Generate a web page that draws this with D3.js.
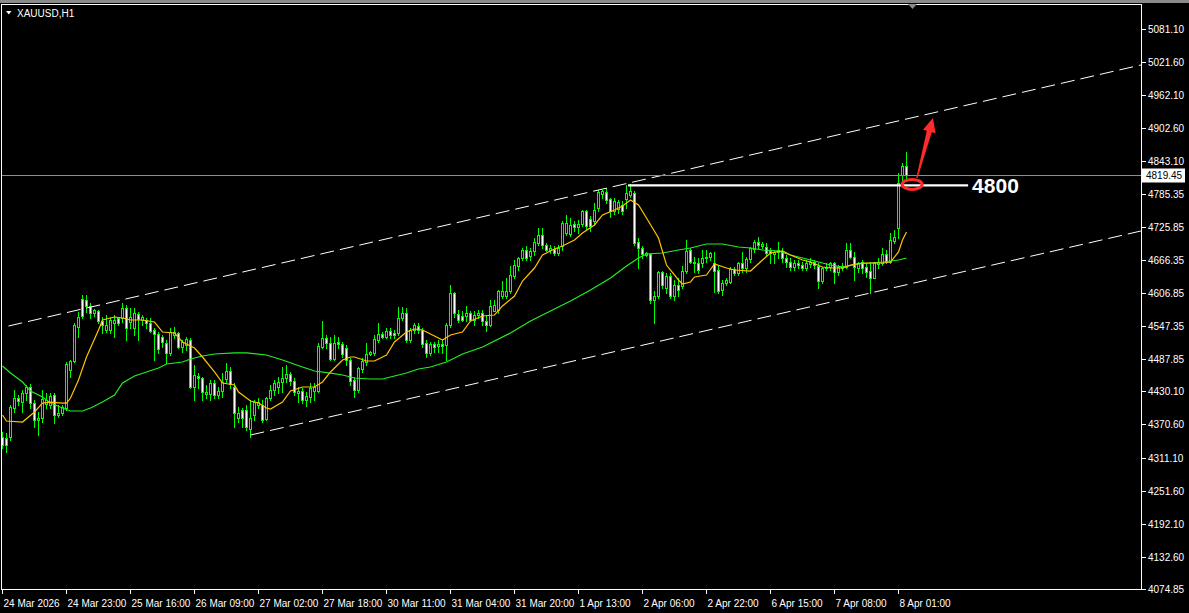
<!DOCTYPE html>
<html>
<head>
<meta charset="utf-8">
<script src="https://cdn.jsdelivr.net/npm/d3@7"></script>
<style>
  body { margin: 0; background: #000; overflow: hidden; }
  svg { display: block; }
  text { font-family: "Liberation Sans", Arial, sans-serif; }
</style>
</head>
<body>
<div id="chart"></div>
<script>
// XAUUSD H1 candles (one entry per hourly bar)
var symbol = "XAUUSD,H1";

var opens = [
  4348.0,4346.2,4348.0,4400.0,4418.0,4410.8,4427.0,4437.8,4409.0,4378.5,
  4382.1,4407.2,4405.4,4423.4,4387.5,4391.1,4400.0,4468.3,4484.5,4545.6,
  4595.9,4594.1,4583.4,4570.8,4574.4,4556.4,4540.2,4540.2,4552.8,4561.8,
  4561.8,4579.8,4554.6,4543.8,4569.0,4558.2,4558.2,4552.8,4540.2,4533.0,
  4527.7,4516.9,4499.0,4531.2,4534.8,4509.7,4513.3,4522.3,4437.8,4457.6,
  4454.0,4425.2,4425.2,4445.0,4423.4,4430.6,4452.2,4466.5,4437.8,4382.1,
  4396.5,4396.5,4362.3,4387.5,4405.4,4405.4,4380.3,4418.0,4432.4,4437.8,
  4446.8,4454.0,4461.2,4448.6,4427.0,4430.6,4414.4,4419.8,4430.6,4430.6,
  4509.7,4525.9,4516.9,4488.1,4518.7,4515.1,4507.9,4486.3,4450.4,4432.4,
  4470.1,4482.7,4497.1,4499.0,4522.3,4533.0,4527.7,4538.4,4534.8,4534.8,
  4561.8,4570.8,4522.3,4540.2,4547.4,4540.2,4516.9,4499.0,4515.1,4511.5,
  4515.1,4513.3,4549.2,4606.7,4569.0,4565.4,4565.4,4570.8,4558.2,4567.2,
  4570.8,4556.4,4549.2,4574.4,4576.2,4601.3,4601.3,4610.3,4637.3,4655.2,
  4669.6,4684.0,4673.2,4682.2,4696.5,4710.9,4693.0,4684.0,4685.8,4678.6,
  4691.2,4714.5,4712.7,4730.7,4725.3,4730.7,4754.1,4739.7,4736.1,4759.5,
  4784.6,4788.2,4775.6,4754.1,4757.7,4764.8,4775.6,4782.8,4786.4,4698.3,
  4687.6,4675.0,4676.8,4594.1,4601.3,4644.4,4615.7,4637.3,4601.3,4621.1,
  4619.3,4646.2,4684.0,4662.4,4660.6,4660.6,4669.6,4671.4,4660.6,4648.0,
  4612.1,4624.7,4626.5,4649.8,4642.6,4660.6,4651.6,4667.8,4685.8,4698.3,
  4691.2,4689.4,4682.2,4676.8,4680.4,4682.2,4669.6,4662.4,4653.4,4660.6,
  4657.0,4651.6,4658.8,4662.4,4655.2,4628.3,4651.6,4653.4,4660.6,4644.4,
  4651.6,4653.4,4684.0,4671.4,4651.6,4662.4,4653.4,4646.2,4633.7,4658.8,
  4660.6,4676.8,4662.4,4700.1,4723.5,4818.8,4835.0
];
var highs = [
  4356.9,4355.1,4405.4,4432.4,4423.4,4432.4,4441.4,4443.2,4414.4,4392.9,
  4432.4,4427.0,4427.0,4427.0,4405.4,4405.4,4482.7,4486.3,4552.8,4572.6,
  4603.1,4603.1,4588.7,4578.0,4576.2,4563.6,4567.2,4563.6,4567.2,4563.6,
  4588.7,4585.1,4579.8,4579.8,4572.6,4567.2,4561.8,4561.8,4543.8,4536.6,
  4531.2,4522.3,4543.8,4545.6,4536.6,4522.3,4527.7,4525.9,4477.3,4463.0,
  4455.8,4441.4,4450.4,4450.4,4437.8,4463.0,4480.9,4473.7,4445.0,4401.8,
  4400.0,4405.4,4414.4,4414.4,4418.0,4414.4,4419.8,4441.4,4450.4,4455.8,
  4473.7,4477.3,4464.8,4454.0,4437.8,4436.0,4428.8,4445.0,4445.0,4516.9,
  4556.4,4531.2,4527.7,4531.2,4527.7,4518.7,4513.3,4489.9,4455.8,4473.7,
  4489.9,4516.9,4502.5,4531.2,4552.8,4536.6,4543.8,4543.8,4540.2,4581.6,
  4581.6,4579.8,4543.8,4552.8,4552.8,4543.8,4522.3,4518.7,4518.7,4522.3,
  4522.3,4552.8,4621.1,4608.5,4576.2,4574.4,4583.4,4574.4,4574.4,4576.2,
  4576.2,4565.4,4594.1,4594.1,4612.1,4628.3,4633.7,4655.2,4666.0,4671.4,
  4687.6,4691.2,4687.6,4705.5,4723.5,4723.5,4696.5,4693.0,4691.2,4693.0,
  4736.1,4746.9,4741.5,4736.1,4737.9,4755.9,4755.9,4745.1,4768.4,4791.8,
  4791.8,4795.4,4777.4,4777.4,4773.8,4772.0,4800.8,4802.6,4790.0,4705.5,
  4691.2,4680.4,4678.6,4610.3,4646.2,4646.2,4642.6,4642.6,4630.1,4633.7,
  4655.2,4701.9,4687.6,4671.4,4669.6,4684.0,4684.0,4680.4,4680.4,4657.0,
  4630.1,4633.7,4653.4,4653.4,4662.4,4680.4,4671.4,4689.4,4701.9,4707.3,
  4698.3,4696.5,4687.6,4684.0,4698.3,4687.6,4675.0,4669.6,4666.0,4666.0,
  4662.4,4666.0,4669.6,4666.0,4660.6,4653.4,4660.6,4662.4,4662.4,4657.0,
  4660.6,4696.5,4696.5,4680.4,4662.4,4666.0,4660.6,4662.4,4662.4,4669.6,
  4687.6,4684.0,4714.5,4719.9,4822.4,4840.3,4860.1
];
var lows = [
  4328.2,4321.0,4342.6,4392.9,4405.4,4392.9,4414.4,4400.0,4365.9,4351.5,
  4374.9,4400.0,4400.0,4373.1,4383.9,4387.5,4396.5,4455.8,4482.7,4527.7,
  4561.8,4572.6,4561.8,4565.4,4552.8,4534.8,4536.6,4534.8,4527.7,4549.2,
  4554.6,4522.3,4543.8,4531.2,4522.3,4549.2,4543.8,4536.6,4486.3,4499.0,
  4509.7,4480.9,4495.3,4525.9,4507.9,4500.7,4504.3,4436.0,4414.4,4436.0,
  4414.4,4418.0,4414.4,4418.0,4418.0,4419.8,4446.8,4436.0,4365.9,4374.9,
  4365.9,4360.5,4347.9,4378.5,4400.0,4374.9,4378.5,4414.4,4423.4,4427.0,
  4428.8,4446.8,4441.4,4423.4,4410.8,4409.0,4403.6,4410.8,4414.4,4428.8,
  4507.9,4507.9,4486.3,4486.3,4507.9,4491.7,4477.3,4441.4,4419.8,4428.8,
  4464.8,4477.3,4495.3,4495.3,4518.7,4525.9,4525.9,4525.9,4525.9,4531.2,
  4558.2,4518.7,4518.7,4534.8,4534.8,4509.7,4491.7,4495.3,4500.7,4500.7,
  4499.0,4486.3,4545.6,4563.6,4554.6,4556.4,4556.4,4556.4,4549.2,4561.8,
  4549.2,4538.4,4547.4,4574.4,4570.8,4597.7,4597.7,4606.7,4633.7,4648.0,
  4666.0,4666.0,4666.0,4675.0,4693.0,4687.6,4682.2,4678.6,4675.0,4675.0,
  4684.0,4710.9,4709.1,4718.1,4714.5,4727.1,4719.9,4718.1,4728.9,4754.1,
  4777.4,4768.4,4743.3,4748.7,4750.5,4748.7,4759.5,4779.2,4693.0,4651.6,
  4669.6,4673.2,4588.7,4552.8,4597.7,4615.7,4606.7,4597.7,4594.1,4601.3,
  4615.7,4643.1,4660.6,4644.4,4642.6,4653.4,4662.4,4666.0,4608.5,4606.7,
  4603.1,4621.1,4624.7,4639.0,4639.0,4644.4,4644.4,4662.4,4680.4,4687.6,
  4687.6,4675.0,4660.6,4660.6,4669.6,4662.4,4653.4,4648.0,4648.0,4651.6,
  4648.0,4648.0,4653.4,4651.6,4615.7,4624.7,4648.0,4648.0,4624.7,4639.0,
  4648.0,4651.6,4669.6,4630.1,4644.4,4642.6,4635.5,4606.7,4633.7,4651.6,
  4657.0,4660.6,4660.6,4696.5,4705.5,4804.4,4813.4
];
var closes = [
  4333.6,4334.2,4401.8,4418.0,4412.6,4427.0,4437.8,4409.0,4378.5,4382.1,
  4416.2,4414.4,4421.6,4387.5,4391.1,4401.8,4479.1,4484.5,4549.2,4563.6,
  4565.4,4583.4,4570.8,4576.2,4556.4,4549.2,4549.2,4558.2,4558.2,4552.8,
  4579.8,4543.8,4563.6,4570.8,4560.0,4563.6,4552.8,4538.4,4533.0,4506.1,
  4518.7,4499.0,4536.6,4536.6,4509.7,4518.7,4524.1,4437.8,4459.4,4454.0,
  4428.8,4428.8,4445.0,4423.4,4430.6,4446.8,4466.5,4443.2,4391.1,4391.1,
  4382.1,4365.9,4382.1,4410.8,4410.8,4378.5,4418.0,4432.4,4445.0,4446.8,
  4454.0,4461.2,4448.6,4428.8,4430.6,4414.4,4421.6,4436.0,4437.8,4511.5,
  4525.9,4516.9,4488.1,4516.9,4515.1,4497.1,4486.3,4448.6,4432.4,4471.9,
  4484.5,4497.1,4500.7,4524.1,4533.0,4527.7,4538.4,4531.2,4531.2,4561.8,
  4570.8,4522.3,4540.2,4549.2,4540.2,4515.1,4499.0,4515.1,4509.7,4515.1,
  4511.5,4549.2,4606.7,4570.8,4558.2,4558.2,4570.8,4558.2,4567.2,4570.8,
  4556.4,4549.2,4583.4,4585.1,4610.3,4610.3,4610.3,4639.0,4657.0,4669.6,
  4684.0,4669.6,4682.2,4698.3,4710.9,4693.0,4684.0,4687.6,4678.6,4687.6,
  4732.5,4732.5,4728.9,4725.3,4730.7,4754.1,4727.1,4727.1,4755.9,4788.2,
  4790.0,4773.8,4754.1,4772.0,4770.2,4754.1,4786.4,4790.0,4696.5,4687.6,
  4676.8,4678.6,4594.1,4601.3,4644.4,4621.1,4637.3,4601.3,4621.1,4612.1,
  4646.2,4682.2,4662.4,4660.6,4648.0,4669.6,4671.4,4678.6,4646.2,4610.3,
  4624.7,4630.1,4649.8,4642.6,4660.6,4651.6,4667.8,4687.6,4698.3,4693.0,
  4694.8,4678.6,4678.6,4680.4,4684.0,4669.6,4662.4,4653.4,4660.6,4657.0,
  4651.6,4660.6,4662.4,4657.0,4628.3,4651.6,4653.4,4660.6,4644.4,4653.4,
  4655.2,4684.0,4671.4,4653.4,4660.6,4651.6,4644.4,4633.7,4660.6,4662.4,
  4676.8,4662.4,4701.9,4707.3,4804.4,4835.0,4819.45
];

// moving averages read at sample bars: [bar index, price]
var maFast = [
  [0,4387.5],[1,4376.7],[5,4374.9],[8,4392.9],[10,4409.0],[12,4410.8],[15,4409.0],[16,4409.0],
  [17,4418.0],[19,4450.4],[21,4491.7],[24,4540.2],[25,4558.2],[28,4563.6],[30,4561.8],[32,4558.2],
  [35,4558.2],[38,4554.6],[40,4536.6],[43,4534.8],[45,4518.7],[48,4507.9],[50,4491.7],[53,4464.8],
  [55,4445.0],[58,4441.4],[59,4428.8],[62,4412.6],[64,4409.0],[66,4400.0],[67,4398.3],[70,4410.8],
  [72,4430.6],[75,4437.8],[78,4437.8],[80,4446.8],[82,4464.8],[85,4486.3],[87,4491.7],[88,4491.7],
  [91,4484.5],[93,4484.5],[96,4495.3],[98,4518.7],[101,4536.6],[103,4542.0],[105,4540.2],[107,4533.0],
  [110,4522.3],[112,4531.2],[115,4536.6],[117,4556.4],[120,4565.4],[123,4567.2],[125,4583.4],[128,4601.3],
  [130,4628.3],[133,4651.6],[135,4675.0],[138,4685.8],[140,4691.2],[143,4701.9],[145,4714.5],[148,4728.9],
  [150,4746.9],[153,4755.9],[155,4763.0],[157,4773.8],[159,4764.8],[161,4741.5],[164,4705.5],[166,4657.0],
  [169,4630.1],[170,4622.9],[172,4626.5],[173,4635.5],[176,4639.0],[178,4658.8],[181,4651.6],[183,4648.0],
  [187,4646.2],[190,4666.0],[192,4678.6],[195,4682.2],[197,4675.0],[200,4666.0],[202,4662.4],[205,4653.4],
  [207,4651.6],[210,4651.6],[212,4657.0],[215,4660.6],[217,4660.6],[220,4660.6],[222,4662.4],[224,4680.4],
  [225,4701.9],[226,4716.3]
];
var maSlow = [
  [0,4475.5],[2,4462.9],[5,4446.8],[7,4430.6],[10,4419.8],[12,4409.0],[15,4400.0],[17,4394.7],
  [20,4394.7],[22,4400.0],[25,4410.8],[28,4423.4],[30,4445.0],[33,4457.6],[36,4464.8],[39,4471.9],
  [41,4479.1],[45,4482.7],[47,4488.1],[50,4493.5],[53,4497.1],[58,4499.0],[61,4499.0],[66,4495.3],
  [70,4486.3],[75,4473.7],[78,4466.5],[82,4462.9],[85,4459.4],[88,4454.0],[92,4452.2],[95,4452.2],
  [97,4455.8],[101,4462.9],[104,4470.1],[107,4473.7],[111,4482.7],[115,4497.1],[120,4509.7],[127,4534.8],
  [132,4556.4],[137,4574.4],[142,4592.3],[147,4612.1],[152,4633.7],[156,4655.2],[159,4669.6],[161,4676.8],
  [165,4678.6],[169,4684.0],[172,4687.6],[176,4694.8],[180,4694.8],[184,4689.4],[187,4687.6],[190,4684.0],
  [194,4682.2],[197,4675.0],[200,4669.6],[204,4662.4],[207,4657.0],[210,4653.4],[214,4658.8],[217,4660.6],
  [220,4662.4],[224,4666.0],[226,4669.6]
];

var timeLabels = ["24 Mar 2026","24 Mar 23:00","25 Mar 16:00","26 Mar 09:00","27 Mar 02:00",
  "27 Mar 18:00","30 Mar 11:00","31 Mar 04:00","31 Mar 20:00","1 Apr 13:00","2 Apr 06:00",
  "2 Apr 22:00","6 Apr 15:00","7 Apr 08:00","8 Apr 01:00"];
var labelEvery = 16; // bars between time labels

var priceTicks = [5081.10,5021.60,4962.10,4902.60,4843.10,4785.35,4725.85,4666.35,4606.85,
  4547.35,4487.85,4430.10,4370.60,4311.10,4251.60,4192.10,4132.60,4074.85];
var lastPrice = 4819.45;

// drawn objects: channel (two anchor points each), level line, marker, arrow
var channelUpper = [[1.5,4547.4],[284.6,5016.4]];
var channelLower = [[62,4351.5],[284.6,4718.1]];
var levelPrice = 4800, levelFrom = 156.4, levelTo = 241.4;
var levelText = "4800";
var markAt = [227.4, 4800];
var arrowFrom = [228.6, 4813.4], arrowTo = [232.6, 4921.2];

var W = 1189, H = 613;
var plot = { left: 1, right: 1141, top: 4, bottom: 589 };

var x = d3.scaleLinear().domain([0, 1]).range([2.5, 6.5]);
var y = d3.scaleLinear().domain([4074.85, 5126.0]).range([plot.bottom, plot.top]);

var svg = d3.select("#chart").append("svg")
    .attr("width", W)
    .attr("height", H);

svg.append("rect").attr("width", W).attr("height", H).attr("fill", "#000");
svg.append("rect").attr("width", W).attr("height", 3).attr("fill", "#8a8a8a");

svg.append("clipPath").attr("id", "clip")
  .append("rect")
    .attr("x", plot.left + 1).attr("y", plot.top + 1)
    .attr("width", plot.right - plot.left - 1)
    .attr("height", plot.bottom - plot.top - 1);

var g = svg.append("g").attr("clip-path", "url(#clip)");

// candles
var bars = d3.range(opens.length);
g.append("g").selectAll("line")
  .data(bars)
  .enter().append("line")
    .attr("x1", function(i) { return x(i); })
    .attr("x2", function(i) { return x(i); })
    .attr("y1", function(i) { return Math.round(y(highs[i])); })
    .attr("y2", function(i) { return Math.round(y(lows[i])) + 1; })
    .attr("stroke", "#00ff00")
    .attr("stroke-width", 1);

g.append("g").selectAll("rect")
  .data(bars)
  .enter().append("rect")
    .attr("x", function(i) { return x(i) - 1; })
    .attr("width", 2)
    .attr("y", function(i) { return Math.round(y(Math.max(opens[i], closes[i]))) + 0.5; })
    .attr("height", function(i) {
      var h = Math.round(y(Math.min(opens[i], closes[i]))) - Math.round(y(Math.max(opens[i], closes[i])));
      return Math.max(h, 1);
    })
    .attr("fill", function(i) { return closes[i] >= opens[i] ? "#000" : "#fff"; })
    .attr("stroke", "#00ff00")
    .attr("stroke-width", 1);

// moving averages
var maLine = d3.line()
    .x(function(d) { return x(d[0]); })
    .y(function(d) { return y(d[1]); });

g.append("path").datum(maSlow)
    .attr("d", maLine)
    .attr("fill", "none")
    .attr("stroke", "#22ee22")
    .attr("stroke-width", 1.2);

g.append("path").datum(maFast)
    .attr("d", maLine)
    .attr("fill", "none")
    .attr("stroke", "#ffc400")
    .attr("stroke-width", 1.2);

// channel, dashed white
function ray(pts) {
  var a = pts[0], b = pts[1];
  return [[x(a[0]), y(a[1])], [x(b[0]), y(b[1])]];
}
[channelUpper, channelLower].forEach(function(c) {
  var p = ray(c);
  g.append("line")
      .attr("x1", p[0][0]).attr("y1", p[0][1])
      .attr("x2", p[1][0]).attr("y2", p[1][1])
      .attr("stroke", "#fff")
      .attr("stroke-width", 1)
      .attr("stroke-dasharray", "14,6");
});

// current price line
g.append("line")
    .attr("x1", plot.left).attr("x2", plot.right)
    .attr("y1", Math.round(y(lastPrice)) + 0.5).attr("y2", Math.round(y(lastPrice)) + 0.5)
    .attr("stroke", "#7f8fa6")
    .attr("stroke-width", 1);

// level line and label
var ly = y(levelPrice);
svg.append("line")
    .attr("x1", x(levelFrom)).attr("x2", x(levelTo))
    .attr("y1", ly).attr("y2", ly)
    .attr("stroke", "#fff")
    .attr("stroke-width", 2.2);
svg.append("text")
    .attr("x", x(levelTo) + 4)
    .attr("y", ly)
    .attr("dy", "0.36em")
    .attr("fill", "#fff")
    .attr("font-size", 21)
    .attr("font-weight", "bold")
    .text(levelText);

// red marker ellipse and arrow
svg.append("ellipse")
    .attr("cx", x(markAt[0])).attr("cy", y(markAt[1]) - 1)
    .attr("rx", 10).attr("ry", 5)
    .attr("fill", "none")
    .attr("stroke", "#ff2a2a")
    .attr("stroke-width", 3);

(function() {
  var x0 = x(arrowFrom[0]), y0 = y(arrowFrom[1]);
  var x1 = x(arrowTo[0]), y1 = y(arrowTo[1]);
  var dx = x1 - x0, dy = y1 - y0, len = Math.sqrt(dx * dx + dy * dy);
  var ux = dx / len, uy = dy / len, nx = -uy, ny = ux;
  var headLen = 14, headW = 6.5, shaftW = 2.6;
  var bx = x1 - ux * headLen, by = y1 - uy * headLen;
  var pts = [
    [x0 + nx * 0.6, y0 + ny * 0.6],
    [bx + nx * shaftW, by + ny * shaftW],
    [bx + nx * headW, by + ny * headW],
    [x1, y1],
    [bx - nx * headW, by - ny * headW],
    [bx - nx * shaftW, by - ny * shaftW],
    [x0 - nx * 0.6, y0 - ny * 0.6]
  ];
  svg.append("path")
      .attr("d", "M" + pts.map(function(p) { return p[0].toFixed(1) + "," + p[1].toFixed(1); }).join("L") + "Z")
      .attr("fill", "#ff2a2a");
})();

// frame
svg.append("rect")
    .attr("x", plot.left + 0.5).attr("y", plot.top + 0.5)
    .attr("width", plot.right - plot.left).attr("height", plot.bottom - plot.top)
    .attr("fill", "none")
    .attr("stroke", "#fff")
    .attr("stroke-width", 1);

// price axis
var yAxis = svg.append("g");
priceTicks.forEach(function(p) {
  var py = Math.round(y(p)) + 0.5;
  yAxis.append("line")
      .attr("x1", plot.right + 1).attr("x2", plot.right + 5)
      .attr("y1", py).attr("y2", py)
      .attr("stroke", "#fff");
  yAxis.append("text")
      .attr("x", plot.right + 7)
      .attr("y", py)
      .attr("dy", "0.35em")
      .attr("fill", "#fff")
      .attr("font-size", 10)
      .text(p.toFixed(2));
});

var lp = Math.round(y(lastPrice)) + 0.5;
svg.append("rect")
    .attr("x", plot.right + 1).attr("y", lp - 7)
    .attr("width", 43).attr("height", 14)
    .attr("fill", "#fff");
svg.append("text")
    .attr("x", plot.right + 5).attr("y", lp)
    .attr("dy", "0.35em")
    .attr("fill", "#000")
    .attr("font-size", 10)
    .text(lastPrice.toFixed(2));

// time axis
var xAxis = svg.append("g");
timeLabels.forEach(function(t, k) {
  var tx = x(k * labelEvery);
  xAxis.append("line")
      .attr("x1", tx).attr("x2", tx)
      .attr("y1", plot.bottom + 1).attr("y2", plot.bottom + 5)
      .attr("stroke", "#fff");
  xAxis.append("text")
      .attr("x", tx + 1)
      .attr("y", 603)
      .attr("dy", "0.35em")
      .attr("fill", "#fff")
      .attr("font-size", 10)
      .text(t);
});

// title and shift marker
svg.append("path").attr("d", "M6,11L11.5,11L8.75,14.5Z").attr("fill", "#fff");
svg.append("text")
    .attr("x", 17).attr("y", 13)
    .attr("dy", "0.35em")
    .attr("fill", "#fff")
    .attr("font-size", 10)
    .text(symbol);
svg.append("path").attr("d", "M908,4L917,4L912.5,9Z").attr("fill", "#8a8a8a");
</script>
</body>
</html>
